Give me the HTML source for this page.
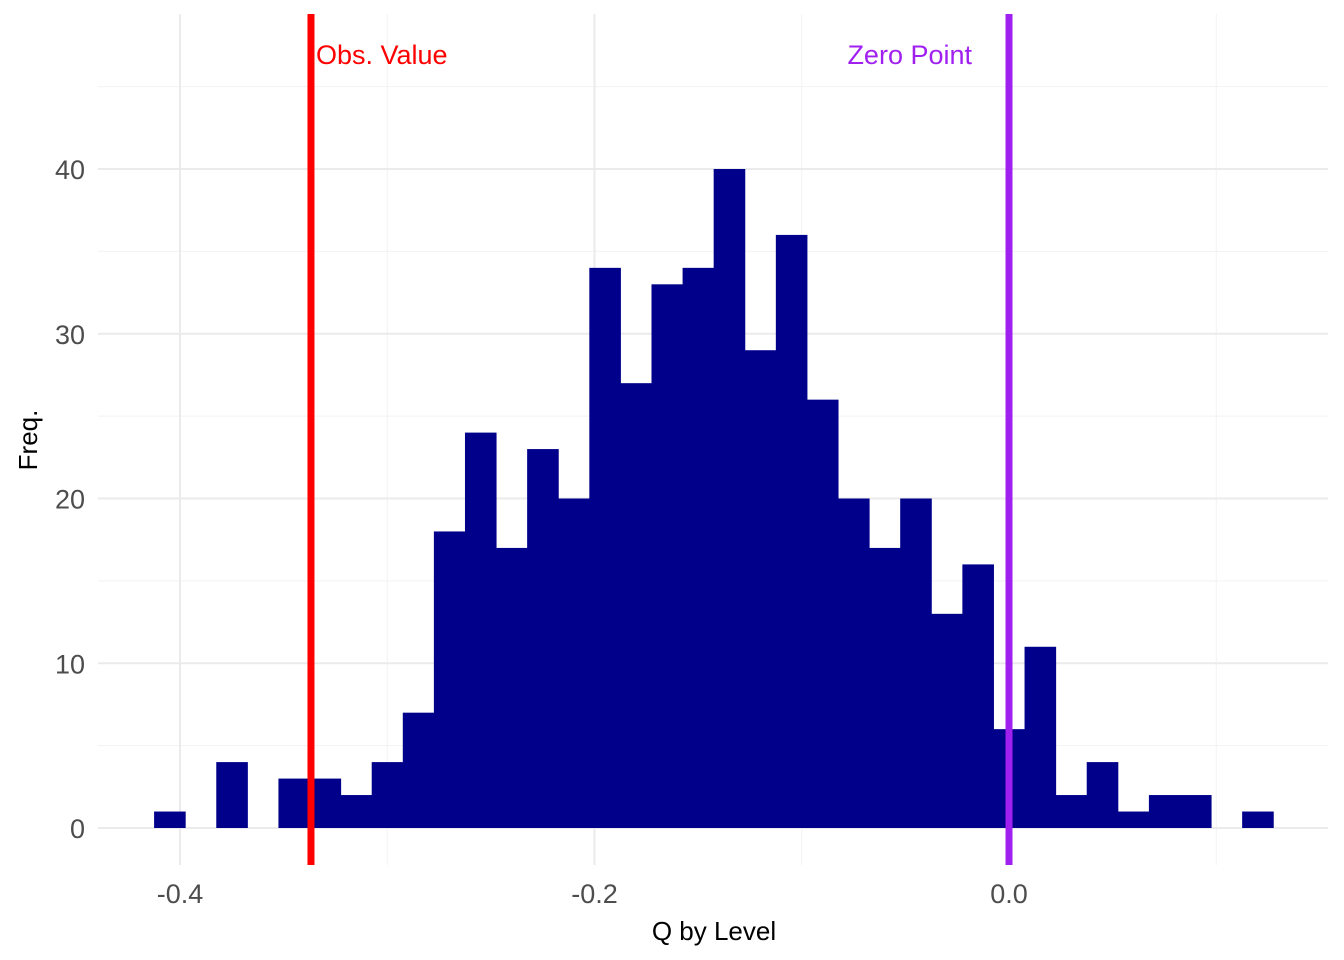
<!DOCTYPE html>
<html><head><meta charset="utf-8"><style>
body{margin:0;background:#fff}
svg{display:block;font-family:"Liberation Sans",Arial,sans-serif}
</style></head><body>
<svg id="chart" width="1344" height="960">
<g id="grid"></g>
<g id="bars"></g>
<g id="lines"></g>
<g id="axes"></g>
<text x="714" y="940" text-anchor="middle" font-size="26" fill="#000">Q by Level</text>
<text transform="translate(37,440) rotate(-90)" text-anchor="middle" font-size="26" fill="#000">Freq.</text>
</svg>
<script>
const binStart = -0.4125;
const binWidth = 0.015;
const counts = [1,0,4,0,3,3,2,4,7,18,24,17,23,20,34,27,33,34,40,29,36,26,20,17,20,13,16,6,11,2,4,1,2,2,0,1];
const xTicks = [-0.4,-0.2,0.0];
const xTickLabels = ["-0.4","-0.2","0.0"];
const xMinor = [-0.3,-0.1,0.1];
const yTicks = [0,10,20,30,40];
const yMinor = [5,15,25,35,45];
const obsValue = -0.3368;
const zeroPoint = 0.0;
const panel = {l:98,r:1328,t:14,b:865};
const X = v => 1009 + v*2072.5;
const Y = v => 828 - v*16.475;
const ns = "http://www.w3.org/2000/svg";
function mk(tag, attrs, parent){const e=document.createElementNS(ns,tag);for(const k in attrs)e.setAttribute(k,attrs[k]);parent.appendChild(e);return e;}
const grid=document.getElementById('grid'), bars=document.getElementById('bars'), lines=document.getElementById('lines'), axes=document.getElementById('axes');
yMinor.forEach(v=>{const e=mk('line',{x1:panel.l,x2:panel.r,y1:Y(v),y2:Y(v),stroke:'#f2f2f2','stroke-width':1},grid);

});
xMinor.forEach(v=>{const e=mk('line',{x1:X(v),x2:X(v),y1:panel.t,y2:panel.b,stroke:'#f2f2f2','stroke-width':1},grid);

});
yTicks.forEach(v=>{const e=mk('line',{x1:panel.l,x2:panel.r,y1:Y(v),y2:Y(v),stroke:'#ebebeb','stroke-width':2},grid);


const t=mk('text',{x:85,y:Y(v)+10,'text-anchor':'end','font-size':27,fill:'#4d4d4d'},axes);t.textContent=v;

});
xTicks.forEach((v,i)=>{const e=mk('line',{x1:X(v),x2:X(v),y1:panel.t,y2:panel.b,stroke:'#ebebeb','stroke-width':2},grid);


const t=mk('text',{x:X(v),y:903,'text-anchor':'middle','font-size':27,fill:'#4d4d4d'},axes);t.textContent=xTickLabels[i];

});
counts.forEach((c,i)=>{if(!c)return;const x0=X(binStart+i*binWidth),x1=X(binStart+(i+1)*binWidth);
const r=mk('rect',{x:x0,y:Y(c),width:x1-x0+0.5,height:Y(0)-Y(c),fill:'#00008b'},bars);

});
const l1=mk('line',{x1:X(obsValue),x2:X(obsValue),y1:panel.t,y2:panel.b,stroke:'#ff0000','stroke-width':7},lines);


const l2=mk('line',{x1:X(zeroPoint),x2:X(zeroPoint),y1:panel.t,y2:panel.b,stroke:'#a020f0','stroke-width':7},lines);


const t1=mk('text',{x:X(obsValue)+5,y:64,'font-size':27,fill:'#ff0000'},lines);t1.textContent='Obs. Value';


const t2=mk('text',{x:X(zeroPoint)-37,y:64,'font-size':27,fill:'#a020f0','text-anchor':'end'},lines);t2.textContent='Zero Point';


</script>
</body></html>
